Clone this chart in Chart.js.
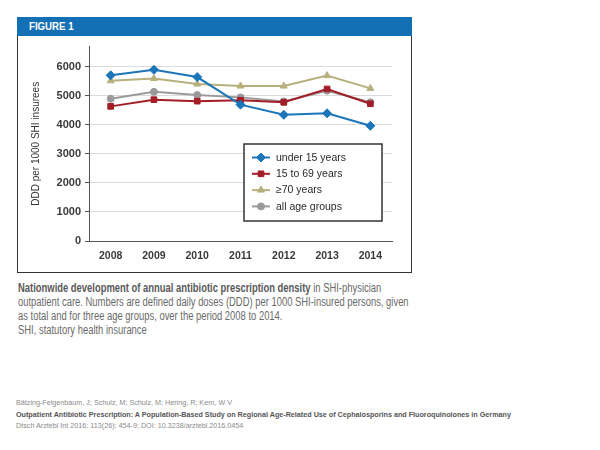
<!DOCTYPE html>
<html>
<head>
<meta charset="utf-8">
<script src="https://cdn.jsdelivr.net/npm/chart.js@4.4.1/dist/chart.umd.min.js"></script>
<style>
  html, body { margin: 0; padding: 0; background: #fff; }
  body { width: 600px; height: 450px; position: relative; overflow: hidden; font-family: "Liberation Sans", Arial, sans-serif; }
  #frame { position: absolute; left: 17px; top: 17px; width: 395px; height: 256px; border: 1.5px solid #333; border-top: none; box-sizing: border-box; }
  #header { position: absolute; left: 17px; top: 17px; width: 395px; height: 19px; background: #1470b5; }
  #header span { position: absolute; left: 12px; top: 0; color: #fff; font-weight: bold; font-size: 11.5px; line-height: 19px; transform: scaleX(0.84); transform-origin: left center; white-space: nowrap; }
  #wrap { position: absolute; left: 18px; top: 36px; width: 393px; height: 236px; }
  #caption { position: absolute; left: 18px; top: 281px; color: #6a6a6a; font-size: 12px; line-height: 14px; white-space: nowrap; transform: scaleX(0.785); transform-origin: left top; }
  #caption b { color: #5a5a5a; }
  #cite { position: absolute; left: 16px; top: 397px; color: #8a8a8a; font-size: 7.2px; line-height: 11.5px; white-space: nowrap; }
  #cite b { color: #555; }
</style>
</head>
<body>
<div id="frame"></div>
<div id="header"><span>FIGURE 1</span></div>
<div id="wrap"><canvas id="chart"></canvas></div>
<div id="caption"><b>Nationwide development of annual antibiotic prescription density</b> in SHI-physician<br>outpatient care. Numbers are defined daily doses (DDD) per 1000 SHI-insured persons, given<br>as total and for three age groups, over the period 2008 to 2014.<br>SHI, statutory health insurance</div>
<div id="cite">Bätzing-Feigenbaum, J; Schulz, M; Schulz, M; Hering, R; Kern, W V<br><b>Outpatient Antibiotic Prescription: A Population-Based Study on Regional Age-Related Use of Cephalosporins and Fluoroquinolones in Germany</b><br>Dtsch Arztebl Int 2016; 113(26): 454-9; DOI: 10.3238/arztebl.2016.0454</div>
<script>
const years = ["2008", "2009", "2010", "2011", "2012", "2013", "2014"];
const under15 = [5710, 5900, 5650, 4700, 4350, 4400, 3970];
const age15to69 = [4640, 4870, 4820, 4850, 4780, 5240, 4730];
const age70plus = [5520, 5600, 5410, 5340, 5340, 5700, 5260];
const allAges = [4900, 5140, 5030, 4950, 4810, 5180, 4780];
const yTicks = [0, 1000, 2000, 3000, 4000, 5000, 6000];

const fontFamily = "'Liberation Sans', Arial, sans-serif";

function series(label, data, color, pointStyle, radius) {
  return {
    label,
    data,
    borderColor: color,
    backgroundColor: color,
    borderWidth: 2,
    pointStyle,
    pointRadius: radius,
    pointBorderWidth: 1,
    tension: 0
  };
}

// legend box drawn inside the plot, bottom right
const boxLegend = {
  id: "boxLegend",
  afterDraw(chart) {
    const ctx = chart.ctx;
    const x = 226, y = 108, w = 138, h = 77;
    ctx.save();
    ctx.fillStyle = "#fff";
    ctx.fillRect(x, y, w, h);
    ctx.strokeStyle = "#333";
    ctx.lineWidth = 1.5;
    ctx.strokeRect(x, y, w, h);
    ctx.font = "10.5px " + fontFamily;
    ctx.textBaseline = "middle";
    chart.data.datasets.forEach((ds, i) => {
      const cy = y + 13.5 + i * 16.3;
      ctx.strokeStyle = ds.borderColor;
      ctx.lineWidth = 2;
      ctx.beginPath();
      ctx.moveTo(x + 8, cy);
      ctx.lineTo(x + 26, cy);
      ctx.stroke();
      ctx.fillStyle = ds.borderColor;
      ctx.lineWidth = 1;
      Chart.helpers.drawPoint(ctx, {
        pointStyle: ds.pointStyle,
        radius: ds.pointRadius,
        borderWidth: 1
      }, x + 17, cy);
      ctx.fillStyle = "#2a2a2a";
      ctx.fillText(ds.label, x + 32, cy + 0.5);
    });
    ctx.restore();
  }
};

new Chart(document.getElementById("chart"), {
  type: "line",
  data: {
    labels: years,
    datasets: [
      series("under 15 years", under15, "#1a76b9", "rectRot", 4.5),
      series("15 to 69 years", age15to69, "#a31d27", "rect", 4),
      series("\u226570 years", age70plus, "#b8b07c", "triangle", 4),
      series("all age groups", allAges, "#9a9a9a", "circle", 3.5)
    ]
  },
  options: {
    responsive: true,
    maintainAspectRatio: false,
    animation: false,
    layout: { padding: { top: 10, right: 19, left: 0, bottom: 0 } },
    plugins: {
      legend: { display: false },
      tooltip: { enabled: false }
    },
    scales: {
      x: {
        offset: true,
        grid: { display: false, drawTicks: false },
        border: { color: "#555", width: 1 },
        ticks: { color: "#3a3a3a", font: { family: fontFamily, size: 10.5, weight: "bold" }, padding: 9 },
        afterFit(scale) { scale.height = 31; }
      },
      y: {
        min: 0,
        max: 6700,
        afterBuildTicks(scale) { scale.ticks = yTicks.map((v) => ({ value: v })); },
        grid: { color: "#dcdcdc", tickColor: "#555", tickLength: 4 },
        border: { color: "#555", width: 1 },
        ticks: {
          color: "#3a3a3a",
          font: { family: fontFamily, size: 11, weight: "bold" },
          padding: 4,
          callback: (v) => String(v)
        },
        title: {
          display: true,
          text: "DDD per 1000 SHI insurees",
          color: "#333",
          font: { family: fontFamily, size: 10 },
          padding: { top: 12, bottom: 0 }
        },
        afterFit(scale) { scale.width = 71; }
      }
    }
  },
  plugins: [boxLegend]
});
</script>
</body>
</html>
